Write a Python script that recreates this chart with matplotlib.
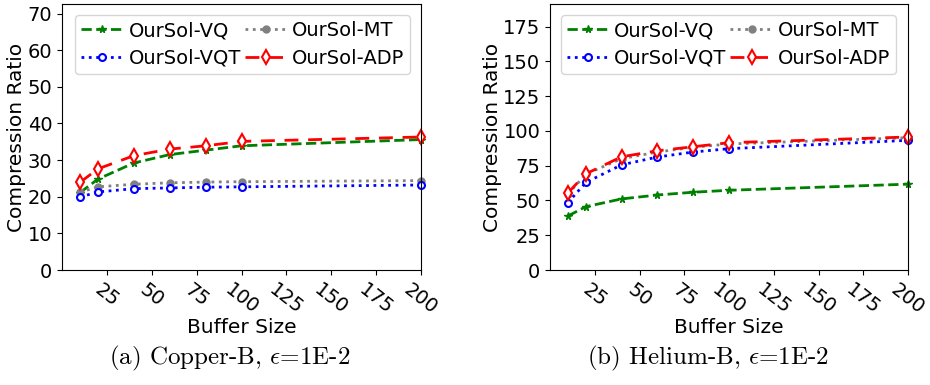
import matplotlib
matplotlib.use("Agg")
import matplotlib.pyplot as plt

plt.rcParams['font.family'] = ['DejaVu Sans']
plt.rcParams['mathtext.fontset'] = 'cm'

buffer_sizes = [10, 20, 40, 60, 80, 100, 200]
xticks = [25, 50, 75, 100, 125, 150, 175, 200]

# Copper-B
copper_vq = [21.1, 24.8, 29.2, 31.5, 32.7, 33.9, 35.6]
copper_mt = [21.2, 22.7, 23.4, 23.8, 24.0, 24.1, 24.4]
copper_vqt = [19.9, 21.3, 22.2, 22.4, 22.6, 22.7, 23.2]
copper_adp = [23.9, 27.6, 31.2, 33.0, 33.9, 35.1, 36.3]

# Helium-B
helium_vq = [38.8, 45.5, 51.1, 53.9, 55.9, 57.3, 61.7]
helium_mt = [54.4, 68.9, 80.0, 84.8, 88.2, 90.6, 95.1]
helium_vqt = [48.4, 62.9, 75.6, 81.2, 84.8, 87.2, 93.2]
helium_adp = [55.4, 69.1, 81.4, 85.7, 88.6, 91.5, 95.6]

captions = [r'(a) Copper-B, $\epsilon$=1E-2', r'(b) Helium-B, $\epsilon$=1E-2']

fig = plt.figure(figsize=(9.3, 3.85), dpi=100)
ax1 = fig.add_axes([62/930, 115/385, 359/930, 266/385])
ax2 = fig.add_axes([550/930, 115/385, 358/930, 266/385])


def draw(ax, vq, mt, vqt, adp, ystep, legend_x):
    l_vq, = ax.plot(buffer_sizes, vq, color='green', linestyle='--', lw=2,
                    marker='*', ms=5.5, label='OurSol-VQ', clip_on=False)
    l_mt, = ax.plot(buffer_sizes, mt, color='grey', linestyle=':', lw=2,
                    marker='o', ms=5, label='OurSol-MT', clip_on=False)
    l_vqt, = ax.plot(buffer_sizes, vqt, color='blue', linestyle=':', lw=2,
                     marker='o', ms=5, mfc='white', mew=1.5,
                     label='OurSol-VQT', clip_on=False)
    l_adp, = ax.plot(buffer_sizes, adp, color='red', lw=2, dashes=(5, 3.5),
                     marker='d', ms=7.5, mfc='white', mew=1.5,
                     label='OurSol-ADP', clip_on=False)
    top = 2 * max(max(vq), max(mt), max(vqt), max(adp))
    ax.set_ylim(0, top)
    ax.set_xlim(0, 200)
    ax.set_xticks(xticks)
    ax.set_xticklabels([str(t) for t in xticks], rotation=-38, ha='center',
                       fontsize=14)
    ax.set_yticks(list(range(0, int(top) + 1, ystep)))
    ax.tick_params(axis='y', labelsize=14)
    ax.set_xlabel('Buffer Size', fontsize=14.5, labelpad=0)
    ax.set_ylabel('Compression Ratio', fontsize=14.5, labelpad=1)
    ax.legend(handles=[l_vq, l_vqt, l_mt, l_adp], ncol=2, loc='upper left',
              bbox_to_anchor=(legend_x, 0.958), borderaxespad=0,
              fontsize=14, handlelength=2.2, columnspacing=0.2,
              handletextpad=0.25, borderpad=0.3, labelspacing=0.45)


draw(ax1, copper_vq, copper_mt, copper_vqt, copper_adp, 10, 0.036)
draw(ax2, helium_vq, helium_mt, helium_vqt, helium_adp, 25, 0.03)

fig.text(230/930, 1 - 358/385, captions[0], fontsize=18, family='cmr10',
         ha='center', va='center')
fig.text(708/930, 1 - 358/385, captions[1], fontsize=18, family='cmr10',
         ha='center', va='center')

fig.savefig('out.png', dpi=100)
